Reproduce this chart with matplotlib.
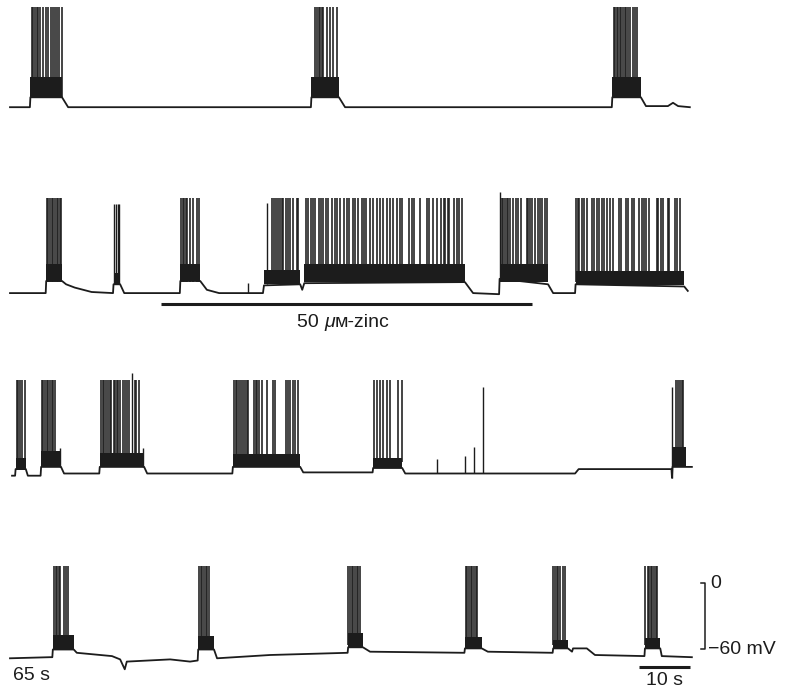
import matplotlib
matplotlib.use('Agg')
import matplotlib.pyplot as plt
import numpy as np

plt.rcParams['font.family'] = ['Liberation Sans', 'DejaVu Sans']

# time in s, membrane potential in mV, one entry per recorded row
# lower envelope of each trace (rest + plateau floor)
row1_env_t = [0, 3.9, 4.0, 10.2, 11.4, 59.0, 59.1, 64.5, 65.7, 118.0, 118.1, 123.7, 124.7,
              129.0, 130.0, 131.0, 133.3]
row1_env_v = [-65, -65, -56, -56, -65, -65, -56, -56, -65, -65, -56, -56, -64,
              -64, -61, -64, -65]
row2_env_t = [0, 7.0, 7.1, 10.2, 11.0, 12.7, 16.0, 20.2, 20.3, 21.6, 22.4, 33.3, 33.4, 37.3,
              38.6, 41.0, 49.6, 49.8, 56.9, 57.3, 57.7, 89.2, 90.8, 95.9, 96.0, 105.5, 106.5,
              110.8, 110.9, 132.2, 132.9]
row2_env_v = [-66, -66, -55, -55, -58, -61, -65, -66, -58, -58, -66, -66, -55, -55,
              -63, -66, -66, -59, -58, -63, -57, -56, -66, -67, -53, -58, -66,
              -66, -58, -60, -64]
row3_env_t = [0.4, 1.0, 1.1, 3.1, 3.5, 6.0, 6.1, 10.0, 10.6, 17.5, 17.6, 26.3, 26.9, 43.6,
              43.7, 56.9, 57.5, 71.1, 71.2, 76.9, 77.5, 110.8, 111.5, 129.7, 129.8, 129.9,
              132.5, 133.7]
row3_env_v = [-68, -68, -62, -62, -68, -68, -60, -60, -66, -66, -60, -60, -66, -66,
              -60, -60, -65, -65, -61, -61, -66, -66, -62, -62, -70, -60,
              -60, -60]
row4_env_t = [0, 7.8, 8.3, 8.4, 12.5, 13.1, 20.0, 21.6, 22.5, 22.9, 31.4, 35.3, 36.8, 36.9,
              40.0, 40.6, 51.0, 66.2, 66.3, 69.2, 70.6, 89.1, 89.2, 92.5, 93.7, 106.4, 106.5,
              109.4, 110.2, 110.4, 113.1, 114.7, 124.4, 124.5, 127.5, 127.8, 133.7]
row4_env_v = [-68, -67, -67, -60, -60, -63, -66, -69, -78, -71, -69, -71, -70, -60,
              -60, -68, -65, -63, -58, -58, -62, -63, -59, -59, -62, -63, -59,
              -59, -62, -59, -59, -65, -66, -59, -59, -66, -67]

# plateau bands during bursts: onset, offset, floor, top (mV)
row1_bursts = [(4.0, 10.2, -56, -38), (59.1, 64.5, -56, -38), (118.1, 123.7, -56, -38)]
row2_bursts = [(7.1, 10.2, -55, -40), (20.3, 21.6, -58, -48), (33.4, 37.3, -55, -40),
               (49.8, 56.9, -58, -45), (57.7, 89.2, -56, -40), (96.0, 105.5, -56, -40),
               (110.9, 132.2, -59, -46)]
row3_bursts = [(1.1, 3.1, -62, -52), (6.1, 10.0, -60, -46), (17.6, 26.3, -60, -47),
               (43.7, 56.9, -60, -48), (71.2, 76.9, -61, -52), (129.9, 132.5, -60, -42)]
row4_bursts = [(8.4, 12.5, -60, -47), (36.9, 40.0, -60, -48), (66.3, 69.2, -58, -45),
               (89.2, 92.5, -59, -49), (106.5, 109.4, -59, -51), (124.5, 127.5, -59, -50)]

# spike times within bursts (full-height spikes)
row1_spikes = [4.25, 4.57, 4.9, 5.24, 5.55, 5.88, 6.41, 7.06, 7.51, 7.98, 8.37, 8.82, 9.27, 9.67,
               10.14, 59.8, 60.1, 60.5, 60.8, 61.1, 61.4, 62.1, 62.7, 63.4, 64.1,
               118.4, 118.7, 119.0, 119.3, 119.6, 119.9, 120.2, 120.5, 120.8, 121.2, 121.6,
               122.2, 122.5, 123.0]
row2_spikes = [7.2, 7.5, 7.84, 8.18, 8.49, 8.82, 9.16, 9.47, 9.8, 10.06,
               33.5, 33.9, 34.2, 34.5, 34.8, 35.3, 35.9, 36.6, 37.1,
               51.3, 51.8, 52.2, 52.6, 52.9, 53.3, 53.6, 54.1, 54.6, 54.9, 55.5, 56.2, 56.5,
               58.0, 58.5, 59.0, 59.4, 59.8, 60.5, 60.9, 61.4, 62.0, 62.4, 63.1, 63.7, 64.2,
               64.7, 65.4, 66.0, 66.5, 67.2, 67.6, 68.3, 69.0, 69.4, 69.9, 70.6, 71.2, 71.9,
               72.5, 73.2, 73.9, 74.5, 75.0, 75.8, 76.5, 76.9, 78.2, 78.8, 79.3, 80.4, 81.7,
               82.2, 83.0, 83.7, 84.6, 85.0, 85.3, 85.8, 86.1, 87.1, 87.6, 88.0, 88.6,
               96.4, 96.7, 97.1, 97.4, 97.7, 98.0, 98.7, 99.2, 99.7, 100.2, 101.3, 101.6,
               102.0, 102.4, 102.9, 103.5, 103.9, 104.4, 104.9, 105.2,
               111.0, 111.3, 111.6, 112.1, 112.6, 113.1, 114.1, 114.6, 115.0, 115.5, 116.0,
               116.5, 117.0, 117.6, 118.3, 119.4, 119.9, 120.7, 121.2, 122.0, 122.4, 123.3,
               123.9, 124.4, 124.8, 125.2, 126.8, 127.1, 127.6, 128.1, 129.0, 129.2, 130.3,
               130.7, 131.4]
row3_spikes = [1.3, 1.6, 2.0, 2.3, 2.9, 6.2, 6.5, 6.9, 7.2, 7.5, 7.8, 8.2, 8.5, 8.8,
               17.8, 18.2, 18.5, 18.8, 19.2, 19.6, 19.9, 20.3, 20.6, 20.9, 21.2, 21.6, 22.1,
               22.5, 23.0, 23.4, 24.5, 24.8, 25.2,
               44.0, 44.3, 44.6, 45.0, 45.3, 45.7, 46.1, 46.4, 46.7, 47.8, 48.2, 48.5, 48.9,
               49.4, 50.3, 51.6, 52.0, 54.1, 54.5, 54.9, 55.4, 55.9, 56.5,
               71.4, 71.9, 72.5, 73.2, 73.9, 74.5, 76.1, 76.8,
               130.5, 131.0, 131.4, 131.7, 132.0]
row4_spikes = [8.6, 9.0, 9.3, 9.6, 9.9, 10.5, 10.9, 11.4,
               37.1, 37.4, 37.7, 38.0, 38.4, 38.7, 39.0,
               66.3, 66.7, 67.0, 67.3, 67.6, 68.0, 68.3, 68.6,
               89.4, 89.7, 90.0, 90.3, 90.6, 91.0, 91.3, 91.6,
               106.5, 106.9, 107.2, 107.5, 107.8, 108.5, 108.8,
               124.6, 125.0, 125.3, 125.6, 125.9, 126.3, 126.6, 126.9]
spike_peaks = [26, 20, 19, 16]

# odd spikes: time, foot, peak (mV)
row2_odd_t = [20.45, 20.8, 21.1, 21.4, 46.7, 50.3, 96.1]
row2_odd_foot = [-58, -58, -58, -58, -66, -58, -53]
row2_odd_peak = [15, 15, 15, 15, -57, 16, 26]
row3_odd_t = [9.8, 23.9, 26.1, 83.7, 89.2, 91.0, 92.7, 129.9]
row3_odd_foot = [-60, -56, -60, -66, -66, -66, -66, -70]
row3_odd_peak = [-43, 25, -43, -53, -50, -42, 13, 13]

zinc_on, zinc_off = 29.6, 102.4
scale_t = 10
scale_mv = (0, -60)

ink = '#1c1c1c'
offsets = [498, 330, 166, 0]
rows = [
    (row1_env_t, row1_env_v, row1_bursts, row1_spikes, [], [], []),
    (row2_env_t, row2_env_v, row2_bursts, row2_spikes, row2_odd_t, row2_odd_foot, row2_odd_peak),
    (row3_env_t, row3_env_v, row3_bursts, row3_spikes, row3_odd_t, row3_odd_foot, row3_odd_peak),
    (row4_env_t, row4_env_v, row4_bursts, row4_spikes, [], [], []),
]

fig = plt.figure(figsize=(7.9, 6.92), dpi=100)
ax = fig.add_axes([0, 0, 1, 1])
ax.set_xlim(-1.96, 152.94)
ax.set_ylim(-98.64, 530.45)
ax.axis('off')

for off, peak, (et, ev, bursts, sp, ot, of, op) in zip(offsets, spike_peaks, rows):
    ax.plot(et, np.array(ev) + off, color=ink, lw=1.3, solid_joinstyle='round')
    for on, end, lo, hi in bursts:
        ax.fill_between([on, end], lo + off, hi + off, color=ink, lw=0)
    ax.vlines(sp, -56 + off, peak + off, color=ink, lw=1.15)
    if ot:
        ax.vlines(ot, np.array(of) + off, np.array(op) + off, color=ink, lw=1.0)

# zinc application bar
ax.hlines(-76 + offsets[1], zinc_on, zinc_off, color=ink, lw=2.2)
t1 = ax.text(56.3, -92.3 + offsets[1], '50 ', fontsize=14, va='center', ha='left', color=ink)
t2 = ax.annotate('μ', xy=(1, 0), xycoords=t1, va='bottom', ha='left', fontsize=14,
                 style='italic', color=ink)
ax.annotate('ᴍ-zinc', xy=(1, 0), xycoords=t2, va='bottom', ha='left', fontsize=14, color=ink)

# scale bars
bar_end = 133.3
ax.hlines(-76, bar_end - scale_t, bar_end, color=ink, lw=2.2)
ax.text(bar_end - scale_t / 2, -88, '10 s', fontsize=14, ha='center', va='center', color=ink)
ax.plot([135.5, 136.3, 136.3, 135.5], [scale_mv[0], scale_mv[0], scale_mv[1], scale_mv[1]],
        color=ink, lw=1.1)
ax.text(137.3, 0, '0', fontsize=14, va='center', ha='left', color=ink)
ax.text(136.9, -60, '\u221260 mV', fontsize=14, va='center', ha='left', color=ink)
ax.text(0.6, -84, '65 s', fontsize=14, va='center', ha='left', color=ink)

fig.savefig('out.png', dpi=100, facecolor='white')
